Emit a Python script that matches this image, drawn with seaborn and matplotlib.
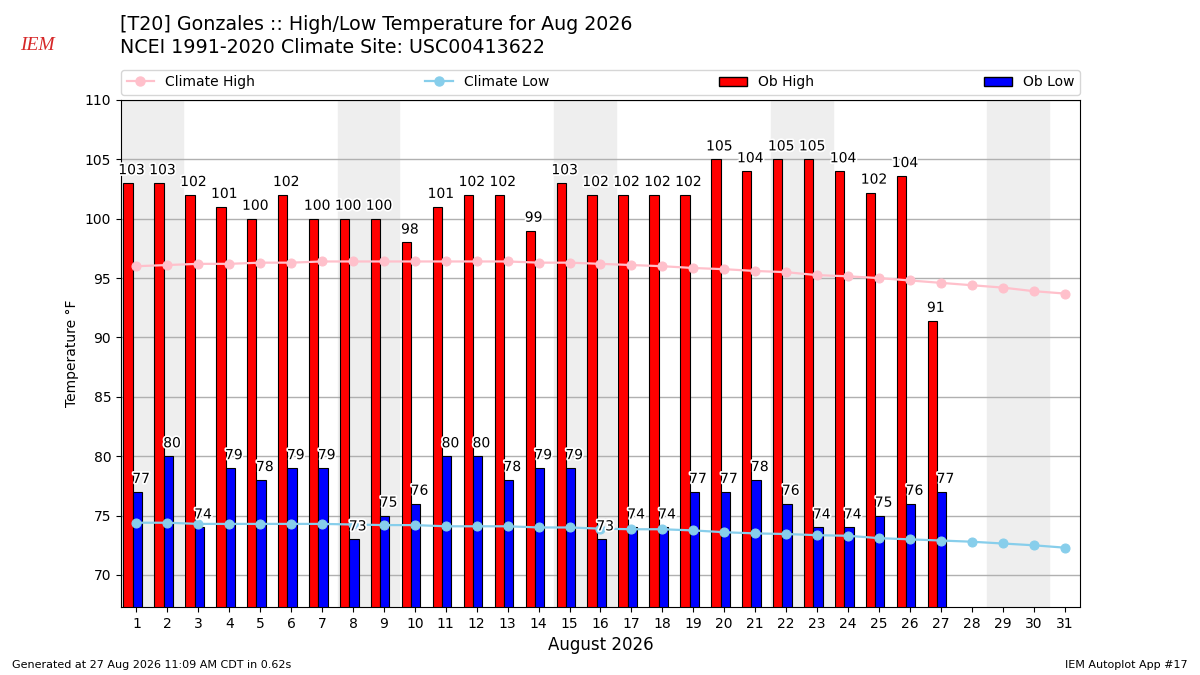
import numpy as np
import pandas as pd
import matplotlib
matplotlib.use("Agg")
import matplotlib.pyplot as plt
import matplotlib.patheffects as pe
from matplotlib.lines import Line2D
from matplotlib.patches import Patch
import seaborn as sns

# Daily data for August 2026
days = list(range(1, 32))
ob_high = [103, 103, 102, 101, 100, 102, 100, 100, 100, 98, 101, 102, 102, 99, 103,
           102, 102, 102, 102, 105, 104, 105, 105, 104, 102.2, 103.6, 91.4,
           np.nan, np.nan, np.nan, np.nan]
ob_low = [77, 80, 74, 79, 78, 79, 79, 73, 75, 76, 80, 80, 78, 79, 79,
          73, 74, 74, 77, 77, 78, 76, 74, 74, 75, 76, 77,
          np.nan, np.nan, np.nan, np.nan]
climate_high = [96.0, 96.1, 96.2, 96.2, 96.3, 96.3, 96.4, 96.4, 96.4, 96.4, 96.4, 96.4,
                96.4, 96.3, 96.3, 96.2, 96.1, 96.0, 95.85, 95.75, 95.6, 95.5, 95.25,
                95.15, 95.0, 94.8, 94.6, 94.4, 94.2, 93.9, 93.7]
climate_low = [74.4, 74.4, 74.3, 74.3, 74.3, 74.3, 74.3, 74.25, 74.2, 74.2, 74.1, 74.1,
               74.1, 74.0, 74.0, 73.9, 73.85, 73.85, 73.75, 73.6, 73.5, 73.45, 73.35,
               73.3, 73.1, 73.0, 72.9, 72.8, 72.65, 72.5, 72.3]
weekends = [(1, 2), (8, 9), (15, 16), (22, 23), (29, 30)]

bars = pd.DataFrame({
    "day": days * 2,
    "temp": ob_high + ob_low,
    "kind": ["Ob High"] * 31 + ["Ob Low"] * 31,
})
# shift the bar pair slightly left of the tick, as in the IEM plot
bars["pos"] = bars["day"] - 0.12

fig = plt.figure(figsize=(12, 6.75), dpi=100)
ax = fig.add_axes([0.1008, 0.1007, 0.7992, 0.7512])

for start, end in weekends:
    ax.axvspan(start - 0.5, end + 0.5, color="#eeeeee", zorder=0)

sns.barplot(data=bars, x="pos", y="temp", hue="kind", native_scale=True,
            palette={"Ob High": "red", "Ob Low": "blue"}, saturation=1, width=0.6,
            edgecolor="black", linewidth=0.8, errorbar=None, legend=False,
            ax=ax, zorder=2)

sns.lineplot(x=days, y=climate_high, color="pink", marker="o", markersize=6.5,
             markeredgecolor="pink", linewidth=1.6, ax=ax, zorder=3)
sns.lineplot(x=days, y=climate_low, color="skyblue", marker="o", markersize=6.5,
             markeredgecolor="skyblue", linewidth=1.6, ax=ax, zorder=3)

halo = [pe.withStroke(linewidth=2.5, foreground="white")]
for d, hi, lo in zip(days, ob_high, ob_low):
    if not np.isnan(hi):
        ax.text(d - 0.16, hi + 0.5, "%.0f" % hi, ha="center", va="bottom",
                fontsize=10, zorder=5, path_effects=halo)
    if not np.isnan(lo):
        ax.text(d + 0.15, lo + 0.5, "%.0f" % lo, ha="center", va="bottom",
                fontsize=10, zorder=5, path_effects=halo)

ax.set_xlim(0.5, 31.5)
ax.set_ylim(67.3, 110)
ax.set_xticks(days)
ax.set_xticklabels([str(d) for d in days])
ax.set_yticks(range(70, 111, 5))
ax.yaxis.grid(True, color="#b0b0b0", linewidth=1)
ax.xaxis.grid(False)
ax.set_axisbelow(True)
for side in ["top", "right", "left", "bottom"]:
    ax.spines[side].set_visible(True)
    ax.spines[side].set_color("black")
ax.set_xlabel("August 2026", fontsize=12)
ax.set_ylabel("Temperature \u00b0F", fontsize=10)

handles = [
    Line2D([], [], color="pink", marker="o", markersize=6.5, linewidth=1.6),
    Line2D([], [], color="skyblue", marker="o", markersize=6.5, linewidth=1.6),
    Patch(facecolor="red", edgecolor="black"),
    Patch(facecolor="blue", edgecolor="black"),
]
ax.legend(handles, ["Climate High", "Climate Low", "Ob High", "Ob Low"],
          loc="lower left", bbox_to_anchor=(0, 1.01, 1, 0.05), mode="expand",
          ncol=4, borderaxespad=0, fontsize=10)

fig.text(0.1, 0.964, "[T20] Gonzales :: High/Low Temperature for Aug 2026",
         fontsize=13.7, va="center", ha="left")
fig.text(0.1, 0.930, "NCEI 1991-2020 Climate Site: USC00413622",
         fontsize=13.7, va="center", ha="left")
fig.text(0.031, 0.933, "IEM", color="#d62728", fontsize=14, style="italic",
         family="Liberation Serif", ha="center", va="center")
fig.text(0.01, 0.015, "Generated at 27 Aug 2026 11:09 AM CDT in 0.62s",
         fontsize=8, ha="left", va="center")
fig.text(0.99, 0.015, "IEM Autoplot App #17", fontsize=8, ha="right", va="center")

fig.savefig("out.png", dpi=100)
